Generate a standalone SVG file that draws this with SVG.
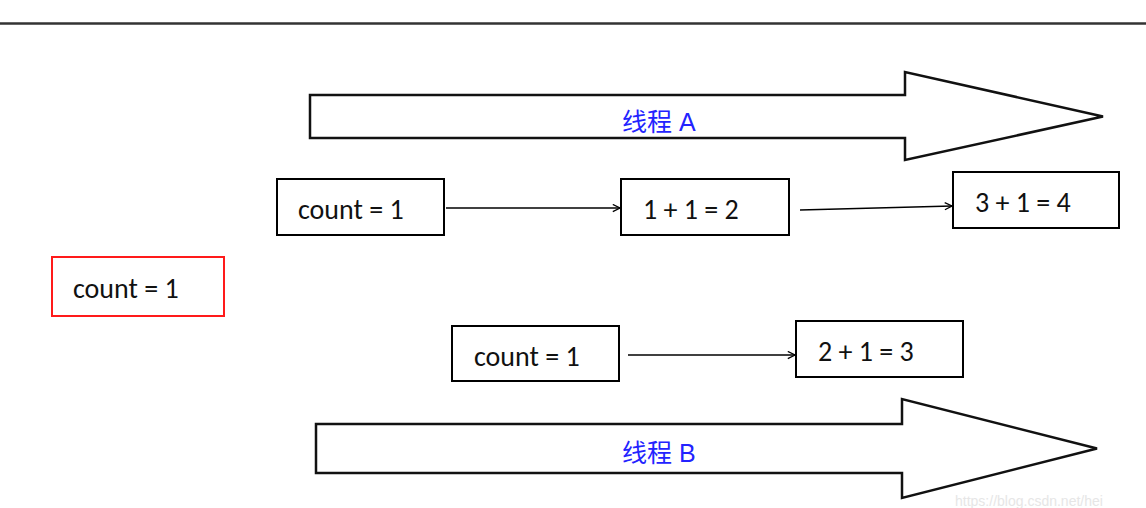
<svg xmlns="http://www.w3.org/2000/svg" width="1146" height="508" viewBox="0 0 1146 508">
<defs>
<marker id="ah" viewBox="0 0 10 10" refX="9" refY="5" markerWidth="9" markerHeight="9" markerUnits="userSpaceOnUse" orient="auto">
<path d="M1,1 L9,5 L1,9" fill="none" stroke="#000" stroke-width="1.4"/>
</marker>
</defs>
<style>
.box{fill:#fff;stroke:#000;stroke-width:2}
.red{fill:#fff;stroke:#ff1a1a;stroke-width:2}
.t{font-family:"Carlito","Liberation Sans",Arial,sans-serif;font-size:28px;fill:#111}
.big{fill:#fff;stroke:#111;stroke-width:2.5;stroke-linejoin:miter}
.lbl{font-family:"Liberation Sans","Noto Sans CJK SC",sans-serif;font-size:25px;fill:#2323ff}
.con{stroke:#000;stroke-width:1.5;fill:none;marker-end:url(#ah)}
</style>
<rect width="1146" height="508" fill="#fff"/>
<line x1="0" y1="23.5" x2="1146" y2="23.5" stroke="#333" stroke-width="2.5"/>

<g id="threadA">
<path class="big" d="M310,95 L905,95 L905,72 L1103,116.5 L905,160 L905,138 L310,138 Z"/>
<text class="lbl" x="622" y="131">线程 A</text>
</g>
<g id="threadB">
<path class="big" d="M316,424 L902,424 L902,399 L1097,448.5 L902,498 L902,473 L316,473 Z"/>
<text class="lbl" x="622" y="462">线程 B</text>
</g>

<g id="countMain">
<rect class="red" x="52" y="257" width="172" height="59"/>
<text class="t" x="73" y="298">count = 1</text>
</g>
<g id="a1">
<rect class="box" x="277" y="179" width="167" height="56"/>
<text class="t" x="298" y="219">count = 1</text>
</g>
<g id="a2">
<rect class="box" x="621" y="179" width="168" height="56"/>
<text class="t" x="643" y="219">1 + 1 = 2</text>
</g>
<g id="a3">
<rect class="box" x="953" y="172" width="166" height="56"/>
<text class="t" x="975" y="212">3 + 1 = 4</text>
</g>
<g id="b1">
<rect class="box" x="452" y="326" width="167" height="55"/>
<text class="t" x="474" y="366">count = 1</text>
</g>
<g id="b2">
<rect class="box" x="796" y="321" width="167" height="56"/>
<text class="t" x="818" y="361">2 + 1 = 3</text>
</g>

<g id="connectors">
<line class="con" x1="446" y1="208" x2="620" y2="208"/>
<line class="con" x1="800" y1="210" x2="952" y2="206"/>
<line class="con" x1="628" y1="355" x2="795" y2="355"/>
</g>

<text x="955" y="506" font-family="Liberation Sans,sans-serif" font-size="14" fill="#e6e6e6">https://blog.csdn.net/hei</text>
</svg>
